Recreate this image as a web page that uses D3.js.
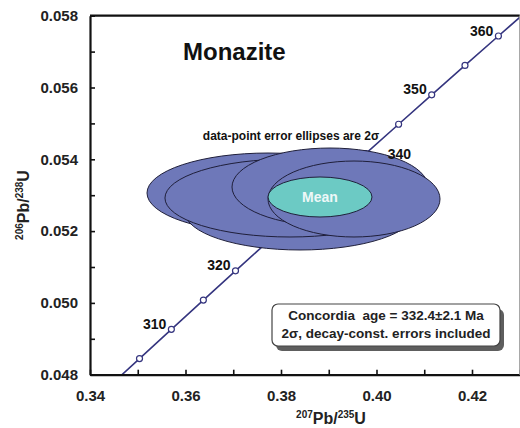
<!DOCTYPE html>
<html>
<head>
<meta charset="utf-8">
<script src="https://cdn.jsdelivr.net/npm/d3@7"></script>
<style>
  body { margin: 0; background: #fff; }
  svg { display: block; font-family: "Liberation Sans", Arial, sans-serif; }
  text { white-space: pre; }
</style>
</head>
<body>
<div id="chart"></div>
<script>
// concordia points (Ma, 207Pb/235U, 206Pb/238U)
const concAges = [300, 305, 310, 315, 320, 325, 330, 335, 340, 345, 350, 355, 360, 365];
const concX = [0.34374, 0.35037, 0.35704, 0.36374, 0.37047, 0.37723, 0.38403, 0.39086, 0.39773, 0.40463, 0.41156, 0.41853, 0.42553, 0.43257];
const concY = [0.047637, 0.048450, 0.049264, 0.050078, 0.050893, 0.051708, 0.052524, 0.053341, 0.054158, 0.054976, 0.055795, 0.056614, 0.057434, 0.058254];
const markerAges = [305, 310, 315, 320, 325, 330, 335, 340, 345, 350, 355, 360];
const labelAges = [310, 320, 340, 350, 360];

// data-point error ellipses (2 sigma), in drawing order
const ellX = [0.37728, 0.38398, 0.38188, 0.39026, 0.39529];
const ellY = [0.053061, 0.052532, 0.052922, 0.053228, 0.052894];
const ellSX = [0.02534, 0.02408, 0.02618, 0.02052, 0.01801];
const ellSY = [0.001114, 0.001058, 0.001086, 0.001086, 0.001058];

// mean ellipse
const meanX = 0.38817, meanY = 0.05295, meanSX = 0.01089, meanSY = 0.000557;

const xTicks = [0.34, 0.35, 0.36, 0.37, 0.38, 0.39, 0.40, 0.41, 0.42, 0.43];
const xLabels = [0.34, 0.36, 0.38, 0.40, 0.42];
const yTicks = [0.048, 0.049, 0.050, 0.051, 0.052, 0.053, 0.054, 0.055, 0.056, 0.057, 0.058];
const yLabels = [0.048, 0.050, 0.052, 0.054, 0.056, 0.058];

const width = 520, height = 428;
const mLeft = 90, mRight = 519.75, mTop = 15.7, mBottom = 374.7;

const svg = d3.select("#chart").append("svg")
    .attr("width", width)
    .attr("height", height);

svg.append("rect").attr("width", width).attr("height", height).attr("fill", "#fff");

const x = d3.scaleLinear().domain([0.34, 0.43]).range([mLeft, mRight]);
const y = d3.scaleLinear().domain([0.048, 0.058]).range([mBottom, mTop]);

svg.append("clipPath").attr("id", "plotClip")
  .append("rect")
    .attr("x", mLeft).attr("y", mTop)
    .attr("width", mRight - mLeft).attr("height", mBottom - mTop);

// concordia curve
const plot = svg.append("g").attr("clip-path", "url(#plotClip)");
const concPts = concAges.map((a, i) => ({ age: a, x: concX[i], y: concY[i] }));

plot.append("path")
    .datum(concPts)
    .attr("fill", "none")
    .attr("stroke", "#35357f")
    .attr("stroke-width", 1.6)
    .attr("d", d3.line().x(d => x(d.x)).y(d => y(d.y)));

plot.selectAll("circle.marker")
    .data(concPts.filter(d => markerAges.includes(d.age)))
    .enter().append("circle")
    .attr("class", "marker")
    .attr("cx", d => x(d.x))
    .attr("cy", d => y(d.y))
    .attr("r", 3)
    .attr("fill", "#fff")
    .attr("stroke", "#35357f")
    .attr("stroke-width", 1.2);

// error ellipses
const ells = ellX.map((v, i) => ({ x: v, y: ellY[i], sx: ellSX[i], sy: ellSY[i] }));
plot.selectAll("ellipse.data")
    .data(ells)
    .enter().append("ellipse")
    .attr("class", "data")
    .attr("cx", d => x(d.x))
    .attr("cy", d => y(d.y))
    .attr("rx", d => x(d.x + d.sx) - x(d.x))
    .attr("ry", d => y(d.y) - y(d.y + d.sy))
    .attr("fill", "#6e78b9")
    .attr("stroke", "#1f1f3a")
    .attr("stroke-width", 1);

plot.append("ellipse")
    .attr("cx", x(meanX))
    .attr("cy", y(meanY))
    .attr("rx", x(meanX + meanSX) - x(meanX))
    .attr("ry", y(meanY) - y(meanY + meanSY))
    .attr("fill", "#6ccac4")
    .attr("stroke", "#1f1f3a")
    .attr("stroke-width", 1);

svg.append("text")
    .attr("x", x(meanX))
    .attr("y", y(meanY) + 5)
    .attr("text-anchor", "middle")
    .attr("font-size", 14)
    .attr("font-weight", "bold")
    .attr("fill", "#eef8f8")
    .text("Mean");

// age labels
svg.selectAll("text.age")
    .data(concPts.filter(d => labelAges.includes(d.age)))
    .enter().append("text")
    .attr("class", "age")
    .attr("x", d => d.age === 340 ? x(d.x) + 22 : x(d.x) - 5)
    .attr("y", d => d.age === 340 ? y(d.y) + 5 : y(d.y) - 0.5)
    .attr("text-anchor", d => d.age === 340 ? "start" : "end")
    .attr("font-size", 14)
    .attr("font-weight", "bold")
    .attr("fill", "#111")
    .text(d => d.age);

// axes
const fmt = d3.format(".2f"), fmtY = d3.format(".3f");
const xAxis = d3.axisBottom(x)
    .tickValues(xTicks)
    .tickSizeInner(-5).tickSizeOuter(0).tickPadding(16)
    .tickFormat(d => xLabels.some(v => Math.abs(v - d) < 1e-9) ? fmt(d) : "");
const yAxis = d3.axisLeft(y)
    .tickValues(yTicks)
    .tickSizeInner(-5).tickSizeOuter(0).tickPadding(12)
    .tickFormat(d => yLabels.some(v => Math.abs(v - d) < 1e-9) ? fmtY(d) : "");

const gx = svg.append("g").attr("transform", `translate(0,${mBottom})`).call(xAxis);
const gy = svg.append("g").attr("transform", `translate(${mLeft},0)`).call(yAxis);
[gx, gy].forEach(g => {
  g.select(".domain").attr("stroke", "#111").attr("stroke-width", 2.2);
  g.selectAll(".tick line").attr("stroke", "#111").attr("stroke-width", 1.6);
  g.selectAll(".tick text")
    .attr("font-family", "'Liberation Sans', Arial, sans-serif")
    .attr("font-size", 15)
    .attr("font-weight", "bold")
    .attr("fill", "#222");
});

// frame top and right
svg.append("line").attr("x1", mLeft).attr("x2", mRight).attr("y1", mTop).attr("y2", mTop)
    .attr("stroke", "#111").attr("stroke-width", 2.2);
svg.append("line").attr("x1", mRight).attr("x2", mRight).attr("y1", mTop).attr("y2", mBottom)
    .attr("stroke", "#999").attr("stroke-width", 1.2);

// axis titles
const xt = svg.append("text")
    .attr("x", 331).attr("y", 424)
    .attr("text-anchor", "middle")
    .attr("font-weight", "bold").attr("font-size", 16).attr("fill", "#222");
xt.append("tspan").attr("font-size", 10).attr("dy", -6).text("207");
xt.append("tspan").attr("dy", 6).text("Pb/");
xt.append("tspan").attr("font-size", 10).attr("dy", -6).text("235");
xt.append("tspan").attr("dy", 6).text("U");

const yt = svg.append("text")
    .attr("transform", "translate(29,205) rotate(-90)")
    .attr("text-anchor", "middle")
    .attr("font-weight", "bold").attr("font-size", 16).attr("fill", "#222");
yt.append("tspan").attr("font-size", 10).attr("dy", -6).text("206");
yt.append("tspan").attr("dy", 6).text("Pb/");
yt.append("tspan").attr("font-size", 10).attr("dy", -6).text("238");
yt.append("tspan").attr("dy", 6).text("U");

// annotations
svg.append("text")
    .attr("x", 183).attr("y", 60)
    .attr("font-size", 24).attr("font-weight", "bold").attr("fill", "#111")
    .text("Monazite");

svg.append("text")
    .attr("x", 291).attr("y", 140)
    .attr("text-anchor", "middle")
    .attr("font-size", 12).attr("font-weight", "bold").attr("fill", "#111")
    .text("data-point error ellipses are 2σ");

// result box
const box = svg.append("g");
box.append("rect")
    .attr("x", 276).attr("y", 309).attr("width", 228).attr("height", 42).attr("rx", 6)
    .attr("fill", "#5e5e5e");
box.append("rect")
    .attr("x", 272).attr("y", 304).attr("width", 228).attr("height", 42).attr("rx", 6)
    .attr("fill", "#fff").attr("stroke", "#444").attr("stroke-width", 1.2);
box.append("text")
    .attr("x", 386).attr("y", 320)
    .attr("text-anchor", "middle")
    .attr("font-size", 13.5).attr("font-weight", "bold").attr("fill", "#222")
    .text("Concordia  age = 332.4±2.1 Ma");
box.append("text")
    .attr("x", 386).attr("y", 338)
    .attr("text-anchor", "middle")
    .attr("font-size", 13.5).attr("font-weight", "bold").attr("fill", "#222")
    .text("2σ, decay-const. errors included");
</script>
</body>
</html>
